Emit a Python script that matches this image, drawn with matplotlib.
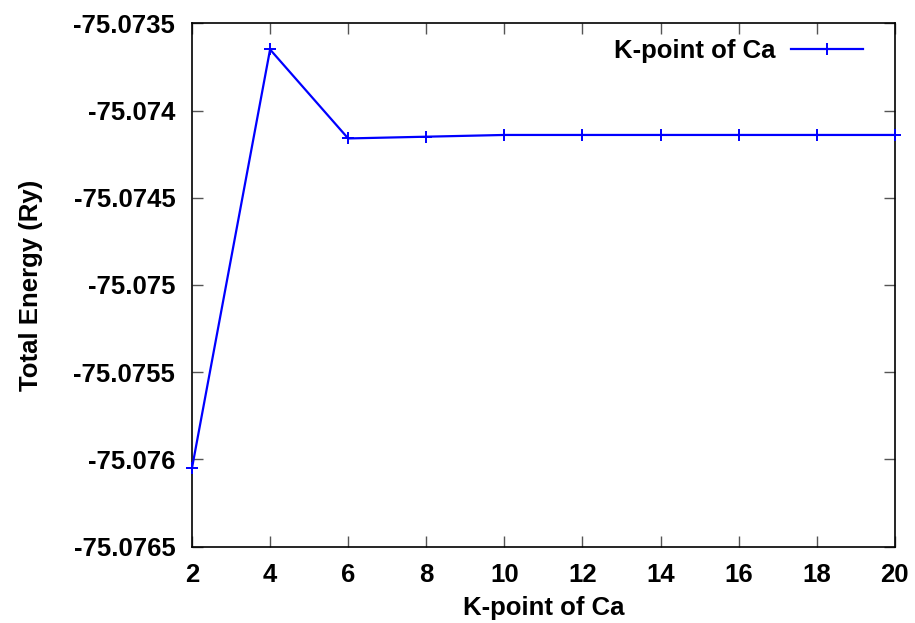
import matplotlib
matplotlib.use("Agg")
import matplotlib.pyplot as plt

# k-point convergence test for Ca
kpoints = [2, 4, 6, 8, 10, 12, 14, 16, 18, 20]
energy = [-75.07605, -75.07365, -75.07416, -75.07415, -75.07414,
          -75.07414, -75.07414, -75.07414, -75.07414, -75.07414]
yticks = [-75.0765, -75.076, -75.0755, -75.075, -75.0745, -75.074, -75.0735]
ytick_labels = ["-75.0765", "-75.076", "-75.0755", "-75.075",
                "-75.0745", "-75.074", "-75.0735"]
xticks = [2, 4, 6, 8, 10, 12, 14, 16, 18, 20]

plt.rcParams['font.family'] = ['Liberation Sans', 'DejaVu Sans']
plt.rcParams['font.weight'] = 'bold'

FS = 18.5

fig = plt.figure(figsize=(9.15, 6.23), dpi=100)
ax = fig.add_axes([0.2098, 0.1225, 0.978 - 0.2098, 0.9626 - 0.1225])

ax.plot(kpoints, energy, color='#0000ff', lw=1.6, marker='+', ms=8,
        mew=1.4, label='K-point of Ca', clip_on=False, zorder=3)

ax.set_xlim(2, 20)
ax.set_ylim(-75.0765, -75.0735)
ax.set_xticks(xticks)
ax.set_xticklabels([str(x) for x in xticks])
ax.set_yticks(yticks)
ax.set_yticklabels(ytick_labels)

ax.tick_params(direction='in', length=8, width=1, labelsize=FS,
               top=True, right=True, color='#555555')
ax.tick_params(axis='y', pad=12)
ax.tick_params(axis='x', pad=12)
for lbl in ax.get_xticklabels() + ax.get_yticklabels():
    lbl.set_fontweight('bold')
for s in ax.spines.values():
    s.set_linewidth(1.2)

ax.set_xlabel('K-point of Ca', fontsize=FS, fontweight='bold', labelpad=6)
ax.set_ylabel('Total Energy (Ry)', fontsize=FS, fontweight='bold', labelpad=22)

leg = ax.legend(loc='upper right', frameon=False, markerfirst=False,
                handlelength=2.8, handletextpad=0.6, borderaxespad=0.2,
                bbox_to_anchor=(0.977, 1.0),
                prop={'weight': 'bold', 'size': FS})

fig.savefig('out.png', dpi=100)
